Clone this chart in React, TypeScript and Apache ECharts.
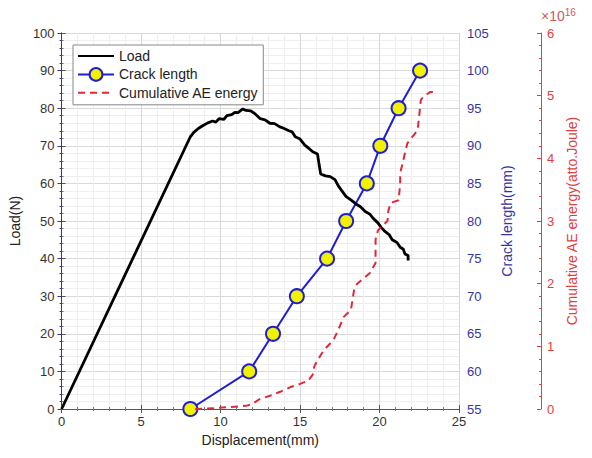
import React, { useEffect, useRef } from "react";
import * as echarts from "echarts";

const loadX = [0, 8.1, 8.3, 8.6, 8.9, 9.2, 9.5, 9.7, 9.9, 10.2, 10.4, 10.7, 10.9, 11.1, 11.4, 11.6, 11.9, 12.2, 12.5, 12.8, 13.1, 13.4, 13.7, 14.0, 14.3, 14.5, 14.7, 15.0, 15.3, 15.5, 15.8, 16.1, 16.2, 16.3, 16.6, 16.9, 17.2, 17.4, 17.6, 17.9, 18.2, 18.5, 18.8, 19.1, 19.4, 19.6, 19.9, 20.1, 20.3, 20.6, 20.8, 21.1, 21.3, 21.5, 21.6, 21.8, 21.8];
const loadY = [0, 72.4, 73.5, 74.6, 75.4, 76.1, 76.6, 76.3, 77.2, 77.0, 78.0, 78.3, 78.9, 78.8, 79.8, 79.4, 79.3, 78.4, 77.2, 76.9, 76.0, 75.9, 75.1, 74.6, 74.0, 73.7, 72.4, 71.8, 70.2, 69.5, 68.4, 67.8, 65.0, 62.5, 62.0, 61.8, 61.0, 59.4, 58.2, 56.5, 55.6, 54.6, 53.8, 52.5, 51.8, 50.7, 49.5, 48.3, 47.4, 46.4, 45.0, 44.3, 43.0, 42.5, 41.2, 40.8, 39.5];

const crackX = [8.1, 11.8, 13.3, 14.8, 16.7, 17.9, 19.2, 20.05, 21.2, 22.55];
const crackY = [55, 60, 65, 70, 75, 80, 85, 90, 95, 100];

// cumulative AE energy, in units of 1e16 atto.Joule
const aeX = [8.4, 9.5, 10.5, 11.6, 12.0, 12.4, 13.2, 13.8, 14.4, 15.0, 15.5, 15.8, 15.9, 16.1, 16.5, 17.1, 17.4, 17.75, 18.2, 18.4, 18.6, 19.4, 19.75, 19.75, 19.9, 20.5, 20.56, 20.7, 21.2, 21.3, 21.3, 21.75, 22.4, 22.6, 22.75, 23.2, 23.4];
const aeY = [0, 0.01, 0.03, 0.05, 0.08, 0.15, 0.22, 0.28, 0.35, 0.40, 0.45, 0.55, 0.68, 0.78, 0.94, 1.1, 1.26, 1.47, 1.58, 1.9, 2.0, 2.17, 2.33, 2.7, 2.85, 3.0, 3.17, 3.29, 3.33, 3.6, 3.76, 4.24, 4.45, 4.93, 4.98, 5.06, 5.06];

const FONT = "'Liberation Sans', Arial, sans-serif";
const BLUE = "#1f1fd0";
const BLUE_TXT = "#35359e";
const RED = "#e0283a";
const RED_TXT = "#e04040";

export default function App() {
  const ref = useRef<HTMLDivElement>(null);
  useEffect(() => {
    if (!ref.current) return;
    const chart = echarts.init(ref.current, undefined, { renderer: "svg" });
    const zip = (a: number[], b: number[]) => a.map((v, i) => [v, b[i]]);
    const noMarker = { color: "rgba(0,0,0,0)", borderWidth: 0, borderColor: "rgba(0,0,0,0)" };
    chart.setOption({
      animation: false,
      backgroundColor: "#fff",
      textStyle: { fontFamily: FONT },
      grid: { left: 59, right: 133, top: 33, bottom: 49, containLabel: false },
      legend: {
        left: 73,
        top: 45,
        orient: "vertical",
        backgroundColor: "#fff",
        borderColor: "#888",
        borderWidth: 1,
        borderRadius: 0,
        padding: [4, 5, 5, 4],
        itemGap: 4,
        itemWidth: 36,
        itemHeight: 16,
        textStyle: { fontSize: 14, color: "#222", fontFamily: FONT },
        data: [
          { name: "Load", itemStyle: noMarker },
          { name: "Crack length" },
          { name: "Cumulative AE energy", itemStyle: noMarker },
        ],
      },
      xAxis: [
        {
          type: "value",
          min: 0,
          max: 25,
          interval: 5,
          name: "Displacement(mm)",
          nameLocation: "middle",
          nameGap: 13,
          nameTextStyle: { fontSize: 14, color: "#222" },
          axisLine: { show: true, lineStyle: { color: "#555" } },
          axisTick: { show: true, inside: true, length: 4, lineStyle: { color: "#555" } },
          minorTick: { show: true, splitNumber: 5, length: 2, lineStyle: { color: "#777" } },
          axisLabel: { fontSize: 13, color: "#333", margin: 6 },
          splitLine: { show: true, lineStyle: { color: "#d8d8d8" } },
          minorSplitLine: { show: true, lineStyle: { color: "#eeeeee" } },
        },
        {
          type: "value",
          position: "top",
          min: 0,
          max: 25,
          interval: 5,
          axisLine: { show: true, lineStyle: { color: "#555" } },
          axisTick: { show: true, inside: true, length: 4, lineStyle: { color: "#555" } },
          minorTick: { show: true, splitNumber: 5, length: 2, lineStyle: { color: "#777" } },
          axisLabel: { show: false },
          splitLine: { show: false },
        },
      ],
      yAxis: [
        {
          type: "value",
          min: 0,
          max: 100,
          interval: 10,
          position: "left",
          name: "Load(N)",
          nameLocation: "middle",
          nameGap: 28,
          nameRotate: 90,
          nameTextStyle: { fontSize: 14, color: "#222" },
          axisLine: { show: true, lineStyle: { color: "#555" } },
          axisTick: { show: true, inside: true, length: 4, lineStyle: { color: "#555" } },
          minorTick: { show: true, splitNumber: 5, length: 2, lineStyle: { color: "#777" } },
          axisLabel: { fontSize: 13, color: "#333", margin: 7 },
          splitLine: { show: true, lineStyle: { color: "#d8d8d8" } },
          minorSplitLine: { show: true, lineStyle: { color: "#eeeeee" } },
        },
        {
          type: "value",
          min: 55,
          max: 105,
          interval: 5,
          position: "right",
          name: "Crack length(mm)",
          nameLocation: "middle",
          nameGap: 40,
          nameRotate: 90,
          nameTextStyle: { fontSize: 14, color: BLUE_TXT },
          axisLine: { show: true, lineStyle: { color: BLUE_TXT } },
          axisTick: { show: true, inside: true, length: 4, lineStyle: { color: BLUE_TXT } },
          minorTick: { show: true, splitNumber: 5, length: 2, lineStyle: { color: BLUE_TXT } },
          axisLabel: { fontSize: 13, color: BLUE_TXT, margin: 8 },
          splitLine: { show: false },
        },
        {
          type: "value",
          min: 0,
          max: 6,
          interval: 1,
          position: "right",
          offset: 82,
          name: "Cumulative AE energy(atto.Joule)",
          nameLocation: "middle",
          nameGap: 23,
          nameRotate: 90,
          nameTextStyle: { fontSize: 14, color: RED_TXT },
          axisLine: { show: true, lineStyle: { color: RED_TXT } },
          axisTick: { show: true, inside: true, length: 4, lineStyle: { color: RED_TXT } },
          minorTick: { show: true, splitNumber: 5, length: 2, lineStyle: { color: RED_TXT } },
          axisLabel: { fontSize: 13, color: RED_TXT, margin: 6 },
          splitLine: { show: false },
        },
      ],
      graphic: [
        {
          type: "text",
          left: 541,
          top: 7,
          style: {
            text: "{a|×10}{b|16}",
            rich: {
              a: { fontSize: 14, fill: "#d05a5a", fontFamily: FONT },
              b: { fontSize: 10, fill: "#d05a5a", fontFamily: FONT, verticalAlign: "top", padding: [0, 0, 8, 0] },
            },
          },
        },
      ],
      series: [
        {
          name: "Crack length",
          type: "line",
          xAxisIndex: 0,
          yAxisIndex: 1,
          data: zip(crackX, crackY),
          z: 2,
          lineStyle: { color: BLUE, width: 2 },
          itemStyle: { color: "#f2f200", borderColor: BLUE, borderWidth: 2 },
          symbol: "circle",
          symbolSize: 14,
          showSymbol: true,
        },
        {
          name: "Load",
          type: "line",
          xAxisIndex: 0,
          yAxisIndex: 0,
          data: zip(loadX, loadY),
          z: 3,
          showSymbol: false,
          symbol: "none",
          lineStyle: { color: "#000", width: 2.8 },
          itemStyle: { color: "#000" },
        },
        {
          name: "Cumulative AE energy",
          type: "line",
          xAxisIndex: 0,
          yAxisIndex: 2,
          data: zip(aeX, aeY),
          z: 4,
          showSymbol: false,
          symbol: "none",
          lineStyle: { color: RED, width: 2, type: [7, 5] },
          itemStyle: { color: RED },
        },
      ],
    });
    return () => chart.dispose();
  }, []);
  return <div ref={ref} style={{ width: 592, height: 458, position: "absolute", left: 0, top: 0 }} />;
}
